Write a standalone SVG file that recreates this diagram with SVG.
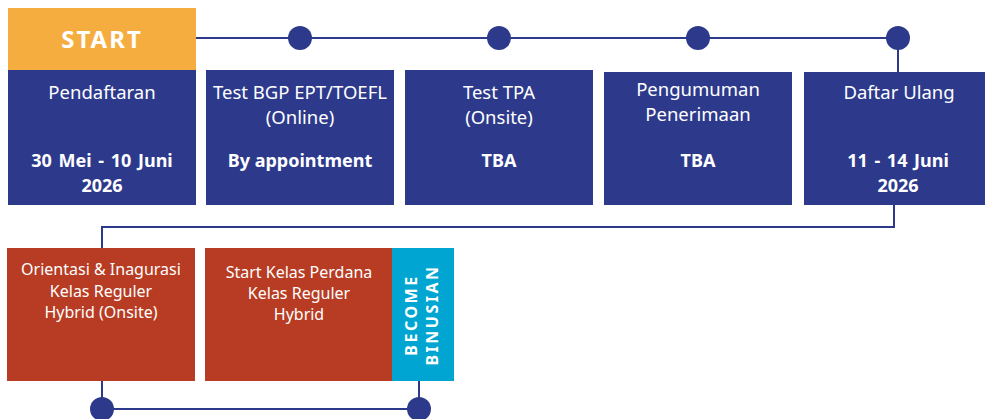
<svg xmlns="http://www.w3.org/2000/svg" width="985" height="419" viewBox="0 0 985 419">
<style>
.blue{fill:#2D3A8C}
.red{fill:#B73C23}
.t{font-family:"Noto Sans","Liberation Sans",sans-serif;fill:#FFFFFF;text-anchor:middle;font-size:18.5px}
.b{font-weight:bold;font-size:18px}
.s{font-size:16px}
.ln{fill:none;stroke:#2D3A8C;stroke-width:2}
.dot{fill:#2D3A8C}
</style>
<rect width="985" height="419" fill="#FFFFFF"/>
<g id="connectors">
<path class="ln" d="M196 38H898V72"/>
<path class="ln" d="M894 205V227H102V248"/>
<path class="ln" d="M102 381V409H419V381"/>
<circle class="dot" cx="300" cy="38" r="12"/>
<circle class="dot" cx="499" cy="38" r="12"/>
<circle class="dot" cx="698" cy="38" r="12"/>
<circle class="dot" cx="898" cy="38" r="12"/>
<circle class="dot" cx="102" cy="409" r="12"/>
<circle class="dot" cx="419" cy="409" r="12"/>
</g>
<g id="start">
<rect x="8" y="8" width="188" height="62" fill="#F6AD3F"/>
<text class="t b" x="102" y="48" style="font-size:24px;letter-spacing:2px">START</text>
</g>
<g id="pendaftaran">
<rect class="blue" x="8" y="70" width="188" height="135"/>
<text class="t" x="102" y="99">Pendaftaran</text>
<text class="t b" x="102" y="167" style="word-spacing:2px">30 Mei - 10 Juni</text>
<text class="t b" x="102" y="192">2026</text>
</g>
<g id="test-bgp">
<rect class="blue" x="206" y="70" width="188" height="135"/>
<text class="t" x="300" y="99">Test BGP EPT/TOEFL</text>
<text class="t" x="300" y="124">(Online)</text>
<text class="t b" x="300" y="167">By appointment</text>
</g>
<g id="test-tpa">
<rect class="blue" x="405" y="70" width="188" height="135"/>
<text class="t" x="499" y="99">Test TPA</text>
<text class="t" x="499" y="124">(Onsite)</text>
<text class="t b" x="499" y="167">TBA</text>
</g>
<g id="pengumuman">
<rect class="blue" x="604" y="72" width="188" height="133"/>
<text class="t" x="698" y="96">Pengumuman</text>
<text class="t" x="698" y="121">Penerimaan</text>
<text class="t b" x="698" y="167">TBA</text>
</g>
<g id="daftar-ulang">
<rect class="blue" x="804" y="72" width="188" height="133"/>
<text class="t" x="899" y="99">Daftar Ulang</text>
<text class="t b" x="898" y="167" style="word-spacing:2px">11 - 14 Juni</text>
<text class="t b" x="898" y="192">2026</text>
</g>
<g id="orientasi">
<rect class="red" x="7" y="248" width="188" height="133"/>
<text class="t s" x="101" y="275">Orientasi &amp; Inagurasi</text>
<text class="t s" x="101" y="297">Kelas Reguler</text>
<text class="t s" x="101" y="318">Hybrid (Onsite)</text>
</g>
<g id="kelas-perdana">
<rect class="red" x="205" y="248" width="187" height="133"/>
<text class="t s" x="299" y="278">Start Kelas Perdana</text>
<text class="t s" x="299" y="299">Kelas Reguler</text>
<text class="t s" x="299" y="320">Hybrid</text>
</g>
<g id="become-binusian">
<rect x="392" y="248" width="62" height="133" fill="#00A6D1"/>
<text class="t b" transform="translate(419 315) rotate(-90)" style="font-size:16px;letter-spacing:2.5px"><tspan x="0" y="-2">BECOME</tspan><tspan x="0" y="19">BINUSIAN</tspan></text>
</g>
</svg>
